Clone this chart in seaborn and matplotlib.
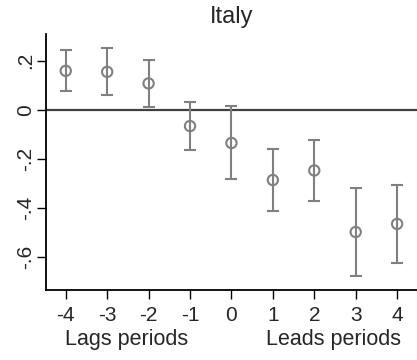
import matplotlib
matplotlib.use("Agg")
import matplotlib.pyplot as plt
import seaborn as sns
import pandas as pd
import numpy as np

periods = [-4, -3, -2, -1, 0, 1, 2, 3, 4]
estimates = [0.159, 0.155, 0.108, -0.066, -0.135, -0.286, -0.247, -0.498, -0.465]
ci_upper = [0.245, 0.253, 0.204, 0.033, 0.016, -0.159, -0.122, -0.318, -0.306]
ci_lower = [0.078, 0.061, 0.012, -0.163, -0.280, -0.414, -0.371, -0.678, -0.624]
y_ticks = [-0.6, -0.4, -0.2, 0.0, 0.2]
y_tick_labels = ["-.6", "-.4", "-.2", "0", ".2"]

df = pd.DataFrame({"period": periods, "est": estimates, "hi": ci_upper, "lo": ci_lower})

sns.set_style("white")
plt.rcParams["font.family"] = ["Liberation Sans", "DejaVu Sans"]

fig = plt.figure(figsize=(4.17, 3.6), dpi=100)
ax = fig.add_axes([0.110, 0.194, 0.890, 0.712])

gray = "#808080"
ax.axhline(0, color="#404040", lw=1.6, zorder=1)
ax.errorbar(df["period"], df["est"],
            yerr=[df["est"] - df["lo"], df["hi"] - df["est"]],
            fmt="none", ecolor=gray, elinewidth=1.5, capsize=4.5, capthick=1.5, zorder=2)
sns.scatterplot(data=df, x="period", y="est", ax=ax, marker="o", s=55,
                facecolor="none", edgecolor=gray, linewidth=1.5, zorder=3)

ax.set_xlim(-4.48, 4.48)
ax.set_ylim(-0.735, 0.31)
ax.set_xticks(periods)
ax.set_xticklabels([str(p) for p in periods], fontsize=15)
ax.set_yticks(y_ticks)
ax.set_yticklabels(y_tick_labels, fontsize=15, rotation=90, va="center")
ax.set_xlabel("")
ax.set_ylabel("")
for s in ["top", "right"]:
    ax.spines[s].set_visible(False)
for s in ["left", "bottom"]:
    ax.spines[s].set_color("black")
    ax.spines[s].set_linewidth(1.3)
ax.tick_params(axis="both", which="both", length=6.5, width=1.0, color="black",
               direction="out", left=True, bottom=True)
ax.tick_params(axis="x", pad=5)
ax.tick_params(axis="y", pad=1.5)

ax.set_title("Italy", fontsize=17, pad=8)
fig.text(127 / 417, 1 - 345 / 360, "Lags periods", fontsize=15.5, ha="center", va="baseline")
fig.text(334 / 417, 1 - 345 / 360, "Leads periods", fontsize=15.5, ha="center", va="baseline")

fig.savefig("out.png", dpi=100)
